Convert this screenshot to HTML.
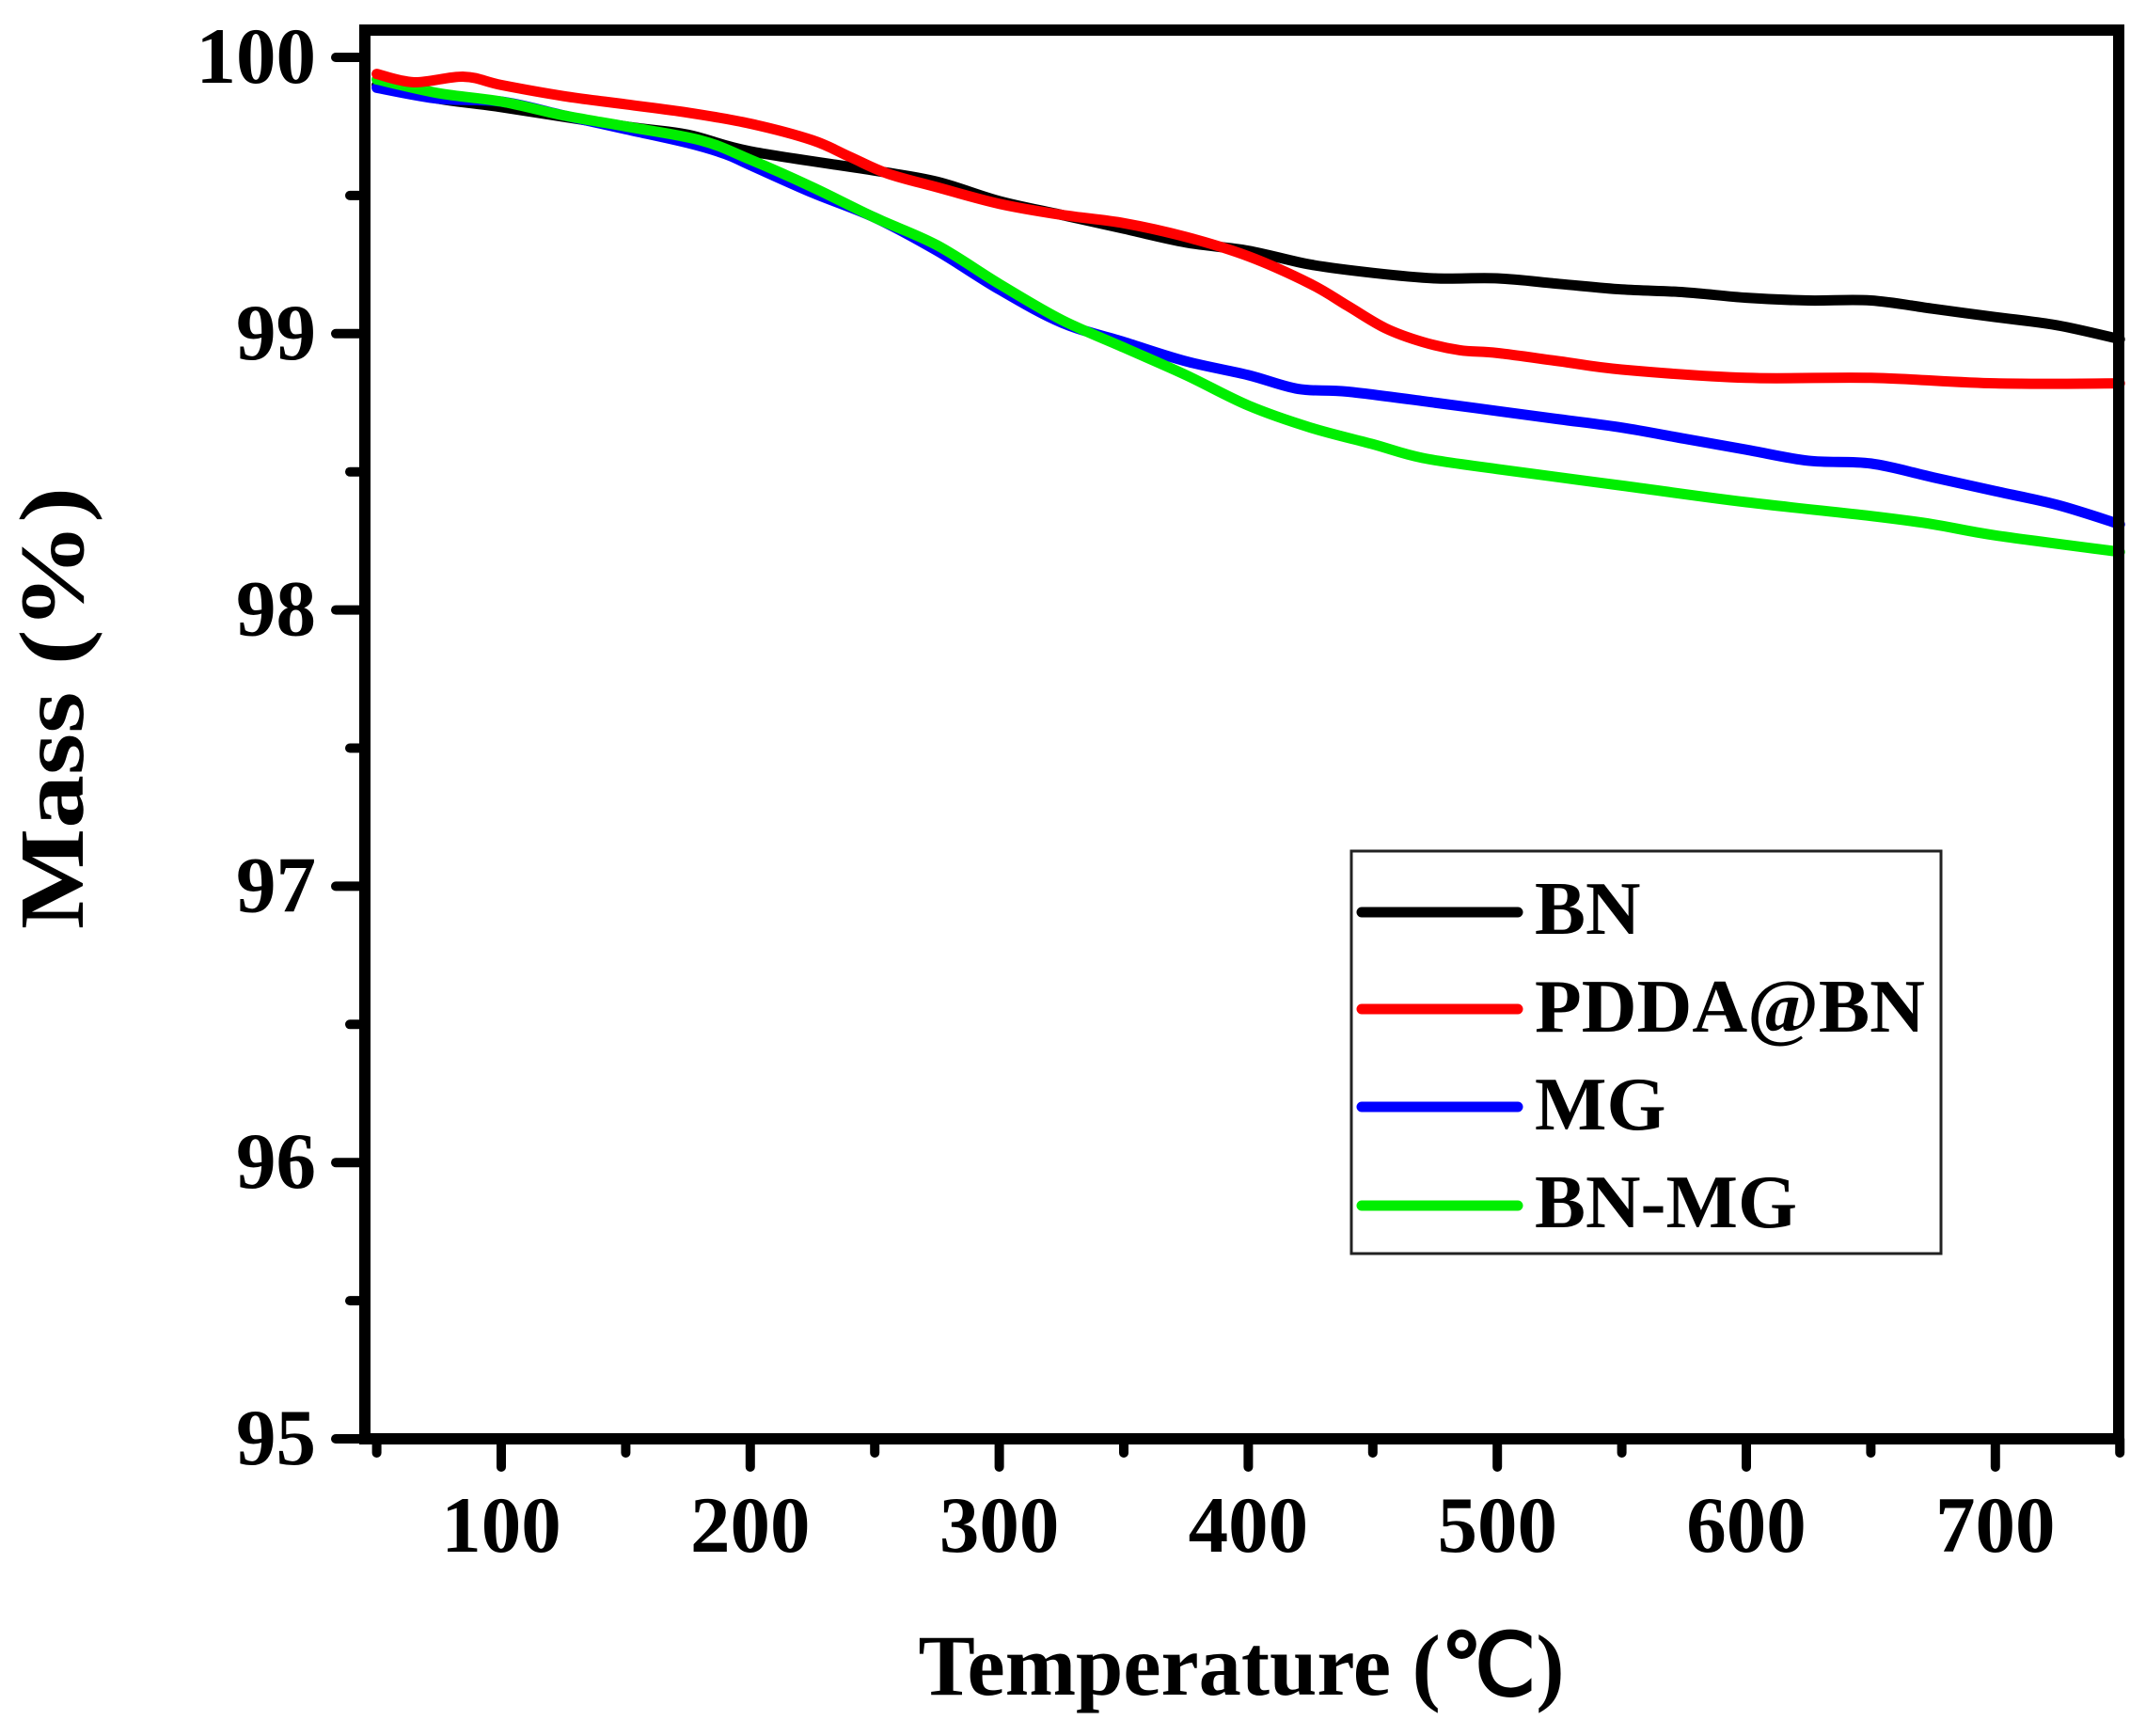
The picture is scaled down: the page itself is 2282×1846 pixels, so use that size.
<!DOCTYPE html>
<html><head><meta charset="utf-8">
<style>
html,body{margin:0;padding:0;background:#fff;}
svg{display:block;}
text{font-family:"Liberation Serif","Times New Roman",serif;font-weight:bold;fill:#000;}
</style></head>
<body>
<svg id="s" width="2282" height="1846" viewBox="0 0 2282 1846" xmlns="http://www.w3.org/2000/svg">
<rect width="2282" height="1846" fill="#fff"/>
<g id="curves" fill="none" stroke-width="11" stroke-linejoin="round" stroke-linecap="round"></g>
<rect x="388" y="32" width="1865" height="1498" fill="none" stroke="#000" stroke-width="12"/>
<g id="ticks" stroke="#000" stroke-width="10" stroke-linecap="round"></g>
<g id="labels" font-size="85"></g>
<text x="1320" y="1802" font-size="92" text-anchor="middle" textLength="687" lengthAdjust="spacingAndGlyphs">Temperature (℃)</text>
<text transform="translate(88,753) rotate(-90)" font-size="98" text-anchor="middle" textLength="470" lengthAdjust="spacingAndGlyphs">Mass (%)</text>
<rect x="1437" y="905" width="627" height="428" fill="#fff" stroke="#222" stroke-width="3"/>
<g stroke-width="11" stroke-linecap="round">
<line x1="1448" y1="970" x2="1614" y2="970" stroke="#000"/>
<line x1="1448" y1="1073" x2="1614" y2="1073" stroke="#ff0000"/>
<line x1="1448" y1="1177" x2="1614" y2="1177" stroke="#0000ff"/>
<line x1="1448" y1="1282" x2="1614" y2="1282" stroke="#00ee00"/>
</g>
<g font-size="81">
<text x="1632" y="993">BN</text>
<text x="1632" y="1097" textLength="415" lengthAdjust="spacingAndGlyphs">PDDA@BN</text>
<text x="1632" y="1201">MG</text>
<text x="1632" y="1305">BN-MG</text>
</g>
</svg>
<script>
var NS="http://www.w3.org/2000/svg";
function X(t){return 533+(t-100)*2.648;}
function Y(m){return 1530-(m-95)*293.8;}
var data={
"#000":[[50,99.9],[75,99.85],[100,99.82],[150,99.75],[175,99.72],[200,99.66],[250,99.59],[275,99.55],[300,99.48],[325,99.43],[350,99.38],[375,99.33],[400,99.3],[425,99.25],[450,99.22],[475,99.2],[500,99.2],[525,99.18],[550,99.16],[575,99.15],[600,99.13],[625,99.12],[650,99.12],[675,99.09],[700,99.06],[725,99.03],[750,98.98]],
"#0000ff":[[50,99.89],[75,99.85],[100,99.84],[125,99.79],[150,99.74],[175,99.69],[190,99.65],[200,99.61],[225,99.51],[250,99.42],[275,99.3],[300,99.16],[325,99.04],[350,98.97],[375,98.9],[400,98.85],[420,98.8],[440,98.79],[475,98.75],[500,98.72],[525,98.69],[550,98.66],[575,98.62],[600,98.58],[625,98.54],[650,98.53],[675,98.48],[700,98.43],[725,98.38],[750,98.31]],
"#00ee00":[[50,99.92],[75,99.87],[100,99.84],[125,99.79],[150,99.75],[180,99.7],[200,99.63],[225,99.53],[250,99.42],[275,99.32],[300,99.18],[325,99.05],[350,98.95],[375,98.85],[400,98.74],[425,98.66],[450,98.6],[470,98.55],[500,98.51],[550,98.45],[600,98.39],[650,98.34],[675,98.31],[700,98.27],[750,98.21]],
"#ff0000":[[50,99.94],[65,99.91],[85,99.93],[100,99.9],[125,99.86],[150,99.83],[175,99.8],[200,99.76],[225,99.7],[240,99.64],[255,99.58],[275,99.53],[300,99.47],[325,99.43],[350,99.4],[375,99.35],[400,99.28],[425,99.18],[440,99.1],[455,99.02],[470,98.97],[485,98.94],[500,98.93],[525,98.9],[550,98.87],[600,98.84],[650,98.84],[700,98.82],[750,98.82]]
};
var g=document.getElementById("curves");
for(var c in data){
 var p=data[c].map(function(d){return [X(d[0]),Y(d[1])];});
 var s="M"+p[0][0]+","+p[0][1];
 for(var i=0;i<p.length-1;i++){
  var p0=p[i-1]||p[i],p1=p[i],p2=p[i+1],p3=p[i+2]||p[i+1];
  var c1=[p1[0]+(p2[0]-p0[0])/6,p1[1]+(p2[1]-p0[1])/6];
  var c2=[p2[0]-(p3[0]-p1[0])/6,p2[1]-(p3[1]-p1[1])/6];
  s+=" C"+c1[0]+","+c1[1]+" "+c2[0]+","+c2[1]+" "+p2[0]+","+p2[1];
 }
 var e=document.createElementNS(NS,"path");e.setAttribute("d",s);e.setAttribute("stroke",c);g.appendChild(e);
}
var tk=document.getElementById("ticks"),lb=document.getElementById("labels");
function line(a,b,c,d){var e=document.createElementNS(NS,"line");e.setAttribute("x1",a);e.setAttribute("y1",b);e.setAttribute("x2",c);e.setAttribute("y2",d);tk.appendChild(e);}
function txt(x,y,t,anc){var e=document.createElementNS(NS,"text");e.setAttribute("x",x);e.setAttribute("y",y);e.setAttribute("text-anchor",anc);e.textContent=t;lb.appendChild(e);}
for(var t=50;t<=750;t+=50){var x=X(t);var major=(t%100==0);line(x,1530,x,major?1560:1545);if(major)txt(x,1650,String(t),"middle");}
for(var m=95;m<=100.001;m+=0.5){var y=Y(m);var major=Math.abs(m-Math.round(m))<0.01;line(major?357:372,y,388,y);if(major)txt(336,y+27,String(Math.round(m)),"end");}
</script>
</body></html>
